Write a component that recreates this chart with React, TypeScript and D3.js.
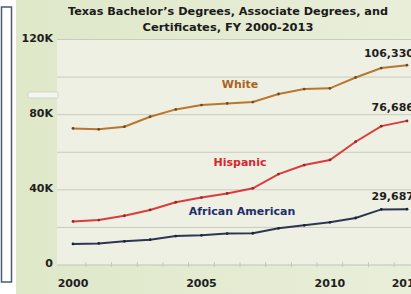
import React, { useEffect, useRef } from 'react'
import * as d3 from 'd3'

const WIDTH = 411
const HEIGHT = 294

const years = [2000, 2001, 2002, 2003, 2004, 2005, 2006, 2007, 2008, 2009, 2010, 2011, 2012, 2013]
const white = [72700, 72200, 73600, 78900, 82800, 85100, 86000, 86700, 91000, 93600, 94000, 99800, 104800, 106330]
const hispanic = [23200, 23900, 26200, 29300, 33400, 35900, 38100, 40800, 48400, 53200, 55900, 65600, 73900, 76686]
const african = [11200, 11500, 12600, 13500, 15400, 15800, 16700, 16900, 19500, 21100, 22700, 25000, 29600, 29687]

const seriesNames = ['White', 'Hispanic', 'African American']
const endLabels = ['106,330', '76,686', '29,687']
const yTickLabels = ['0', '40K', '80K', '120K']
const yTickValues = [0, 40000, 80000, 120000]
const gridValues = [20000, 40000, 60000, 80000, 100000, 120000]
const xTickYears = [2000, 2005, 2010, 2013]
const titleLines = ['Texas Bachelor\u2019s Degrees, Associate Degrees, and', 'Certificates, FY 2000-2013']

const App = () => {
  const ref = useRef<SVGSVGElement>(null)

  useEffect(() => {
    const svg = d3.select(ref.current)
    svg.selectAll('*').remove()

    const x = d3.scaleLinear().domain([2000, 2013]).range([73, 407])
    const y = d3.scaleLinear().domain([0, 120000]).range([265, 39.5])

    const defs = svg.append('defs')
    const grad = defs.append('linearGradient').attr('id', 'panel').attr('x1', 0).attr('x2', 1).attr('y1', 0).attr('y2', 0)
    grad.append('stop').attr('offset', '0%').attr('stop-color', '#dfe8c9')
    grad.append('stop').attr('offset', '100%').attr('stop-color', '#e9eed9')

    svg.append('rect').attr('width', WIDTH).attr('height', HEIGHT).attr('fill', '#ffffff')

    // left frame
    svg.append('rect')
      .attr('x', 1.5).attr('y', 7).attr('width', 10).attr('height', 275)
      .attr('fill', '#ffffff').attr('stroke', '#4d5a6e').attr('stroke-width', 1.5)

    // chart panel
    svg.append('rect').attr('x', 16).attr('y', 0).attr('width', WIDTH - 16).attr('height', HEIGHT).attr('fill', 'url(#panel)')
    svg.append('rect').attr('x', 57).attr('y', 39.5).attr('width', WIDTH - 57).attr('height', 226).attr('fill', '#eef0e3')

    // small caption box
    svg.append('rect').attr('x', 28).attr('y', 92).attr('width', 30).attr('height', 6)
      .attr('fill', '#f4f4f0').attr('stroke', '#b8bcb0').attr('stroke-width', 0.5).attr('rx', 1)

    // grid
    svg.append('g').selectAll('line').data(gridValues).enter().append('line')
      .attr('x1', 57).attr('x2', WIDTH)
      .attr('y1', (d) => y(d)).attr('y2', (d) => y(d))
      .attr('stroke', '#c9ccbc').attr('stroke-width', 1)

    // x axis
    const xAxis = svg.append('g').attr('transform', `translate(0, ${y(0)})`)
    xAxis.append('line').attr('x1', 57).attr('x2', WIDTH).attr('stroke', '#bfc2b3').attr('stroke-width', 1)
    xAxis.selectAll('line.tick').data(years.slice(0, -1)).enter().append('line')
      .attr('class', 'tick')
      .attr('x1', (d) => x(d + 0.5)).attr('x2', (d) => x(d + 0.5))
      .attr('y1', -3).attr('y2', 2)
      .attr('stroke', '#c4c7b8').attr('stroke-width', 1)
    xAxis.selectAll('text').data(xTickYears).enter().append('text')
      .attr('x', (d) => x(d)).attr('y', 22)
      .attr('text-anchor', 'middle')
      .attr('font-family', 'DejaVu Sans').attr('font-weight', 'bold').attr('font-size', 11)
      .attr('fill', '#1e1e1e')
      .text((d) => String(d))

    // y labels
    svg.append('g').selectAll('text').data(yTickValues).enter().append('text')
      .attr('x', 53).attr('y', (d) => y(d) - 1)
      .attr('text-anchor', 'end').attr('dominant-baseline', 'middle')
      .attr('font-family', 'DejaVu Sans').attr('font-weight', 'bold').attr('font-size', 11)
      .attr('fill', '#1e1e1e')
      .text((d, i) => yTickLabels[i])

    // title
    svg.append('g').selectAll('text').data(titleLines).enter().append('text')
      .attr('x', 228).attr('y', (d, i) => 15 + i * 16)
      .attr('text-anchor', 'middle')
      .attr('font-family', 'DejaVu Sans').attr('font-weight', 'bold').attr('font-size', 11)
      .attr('textLength', (d, i) => (i === 0 ? 320 : 171)).attr('lengthAdjust', 'spacingAndGlyphs')
      .attr('fill', '#1a1a1a')
      .text((d) => d)

    const series = [
      { name: seriesNames[0], values: white, color: '#b9762f', dot: '#6b4a2a', lx: 240, ly: 85, lc: '#a8641f', end: endLabels[0], ey: 54 },
      { name: seriesNames[1], values: hispanic, color: '#dc3b3b', dot: '#8a2a2a', lx: 240, ly: 163, lc: '#d7262c', end: endLabels[1], ey: 108 },
      { name: seriesNames[2], values: african, color: '#2c3653', dot: '#1c2238', lx: 242, ly: 212, lc: '#1f2e6a', end: endLabels[2], ey: 197 },
    ]

    const line = d3.line<number>()
      .x((d, i) => x(years[i]))
      .y((d) => y(d))

    const lines = svg.append('g').selectAll('g').data(series).enter().append('g')
    lines.append('path')
      .attr('d', (s) => line(s.values))
      .attr('fill', 'none').attr('stroke', (s) => s.color).attr('stroke-width', 2)
    lines.each(function (s) {
      d3.select(this).selectAll('circle').data(s.values).enter().append('circle')
        .attr('cx', (d, i) => x(years[i])).attr('cy', (d) => y(d))
        .attr('r', 1.4).attr('fill', s.dot)
    })
    lines.append('text')
      .attr('x', (s) => s.lx).attr('y', (s) => s.ly)
      .attr('text-anchor', 'middle').attr('dominant-baseline', 'middle')
      .attr('font-family', 'DejaVu Sans').attr('font-weight', 'bold').attr('font-size', 11)
      .attr('fill', (s) => s.lc)
      .text((s) => s.name)
    lines.append('text')
      .attr('x', 414).attr('y', (s) => s.ey)
      .attr('text-anchor', 'end').attr('dominant-baseline', 'middle')
      .attr('font-family', 'DejaVu Sans').attr('font-weight', 'bold').attr('font-size', 11)
      .attr('fill', '#1e1e1e')
      .text((s) => s.end)
  }, [])

  return (
    <svg ref={ref} width={WIDTH} height={HEIGHT} style={{ position: 'absolute', left: 0, top: 0 }}></svg>
  )
}

export default App
